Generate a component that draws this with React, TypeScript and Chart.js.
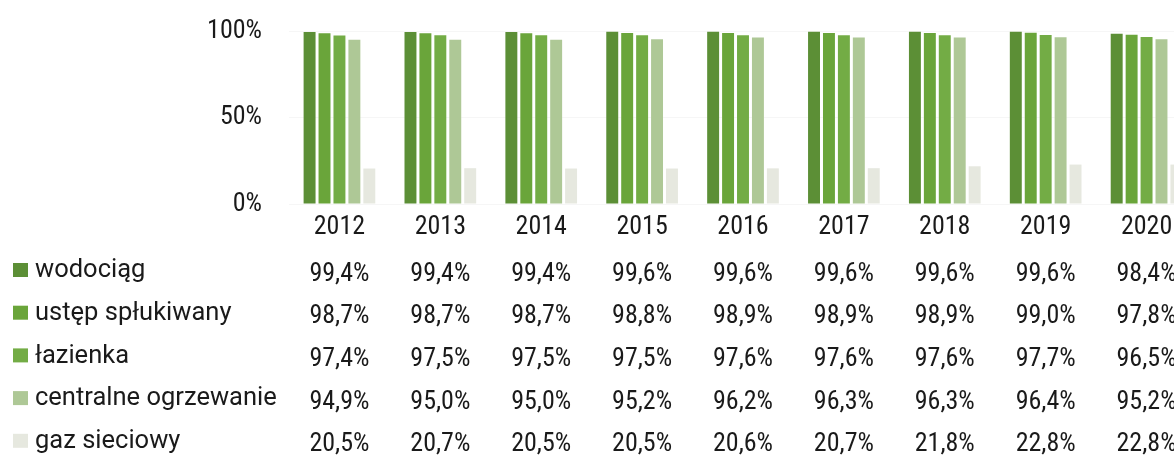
import React, { useEffect, useRef } from "react";
import { Chart, registerables } from "chart.js";

Chart.register(...registerables);

const years = ["2012", "2013", "2014", "2015", "2016", "2017", "2018", "2019", "2020"];
const seriesNames = ["wodociąg", "ustęp spłukiwany", "łazienka", "centralne ogrzewanie", "gaz sieciowy"];
const wodociag = [99.4, 99.4, 99.4, 99.6, 99.6, 99.6, 99.6, 99.6, 98.4];
const ustep = [98.7, 98.7, 98.7, 98.8, 98.9, 98.9, 98.9, 99.0, 97.8];
const lazienka = [97.4, 97.5, 97.5, 97.5, 97.6, 97.6, 97.6, 97.7, 96.5];
const centralne = [94.9, 95.0, 95.0, 95.2, 96.2, 96.3, 96.3, 96.4, 95.2];
const gaz = [20.5, 20.7, 20.5, 20.5, 20.6, 20.7, 21.8, 22.8, 22.8];
const yTicks = [0, 50, 100];
const colors = ["#5c8f36", "#6aa53a", "#73ac45", "#aec896", "#e6e8df"];

const NUM_FAMILY = '"Roboto", sans-serif';
const LABEL_FONT = '"Roboto", "Liberation Sans", sans-serif';
const TEXT = "#1a1a1a";

const fmt = (v: number) => v.toFixed(1).replace(".", ",") + "%";

const tablePlugin = {
  id: "dataTable",
  afterDraw(chart: any) {
    const ctx = chart.ctx;
    const xs = chart.scales.x;
    const rowTop = 271;
    const rowStep = 42.7;
    ctx.save();
    chart.data.datasets.forEach((ds: any, i: number) => {
      const y = rowTop + i * rowStep;
      ctx.fillStyle = ds.backgroundColor;
      ctx.fillRect(13, y - 8, 15, 14);
      ctx.fillStyle = TEXT;
      ctx.textBaseline = "middle";
      ctx.textAlign = "left";
      ctx.font = `25.5px ${LABEL_FONT}`;
      ctx.fillText(ds.label, 35, y);
      ctx.textAlign = "center";
      ctx.font = `condensed 26px ${NUM_FAMILY}`;
      ds.data.forEach((v: number, j: number) => {
        ctx.fillText(fmt(v), xs.getPixelForValue(j), y + 3);
      });
    });
    ctx.restore();
  },
};

export default function App() {
  const ref = useRef<HTMLCanvasElement>(null);
  useEffect(() => {
    if (!ref.current) return;
    const series = [wodociag, ustep, lazienka, centralne, gaz];
    const chart = new Chart(ref.current, {
      type: "bar",
      data: {
        labels: years,
        datasets: series.map((d, i) => ({
          label: seriesNames[i],
          data: d,
          backgroundColor: colors[i],
          categoryPercentage: 0.74,
          barPercentage: 0.8,
        })),
      },
      options: {
        animation: false,
        responsive: false,
        layout: { padding: { left: 0, right: 13, top: 31, bottom: 0 } },
        plugins: { legend: { display: false }, tooltip: { enabled: false } },
        scales: {
          x: {
            grid: { display: false, drawTicks: false },
            border: { display: false },
            ticks: { font: { family: NUM_FAMILY, size: 26, weight: "condensed" as any }, color: TEXT, padding: 8, maxRotation: 0 },
            afterFit: (s: any) => { s.height = 253; },
          },
          y: {
            min: 0,
            max: 100,
            afterBuildTicks: (s: any) => { s.ticks = yTicks.map((v) => ({ value: v })); },
            grid: { color: "rgba(0,0,0,0.035)", drawTicks: false },
            border: { display: false },
            ticks: {
              font: { family: NUM_FAMILY, size: 26, weight: "condensed" as any },
              color: TEXT,
              padding: 27,
              callback: (v: any) => v + "%",
            },
            afterFit: (s: any) => {
              s.width = 289;
              s.paddingTop = 0;
              s.paddingBottom = 0;
            },
          },
        },
      },
      plugins: [tablePlugin],
    });
    return () => chart.destroy();
  }, []);
  return (
    <div style={{ position: "fixed", left: 0, top: 0, width: 1174, height: 457, overflow: "hidden", background: "#fff" }}>
      <canvas ref={ref} width={1210} height={457} style={{ display: "block" }} />
    </div>
  );
}
